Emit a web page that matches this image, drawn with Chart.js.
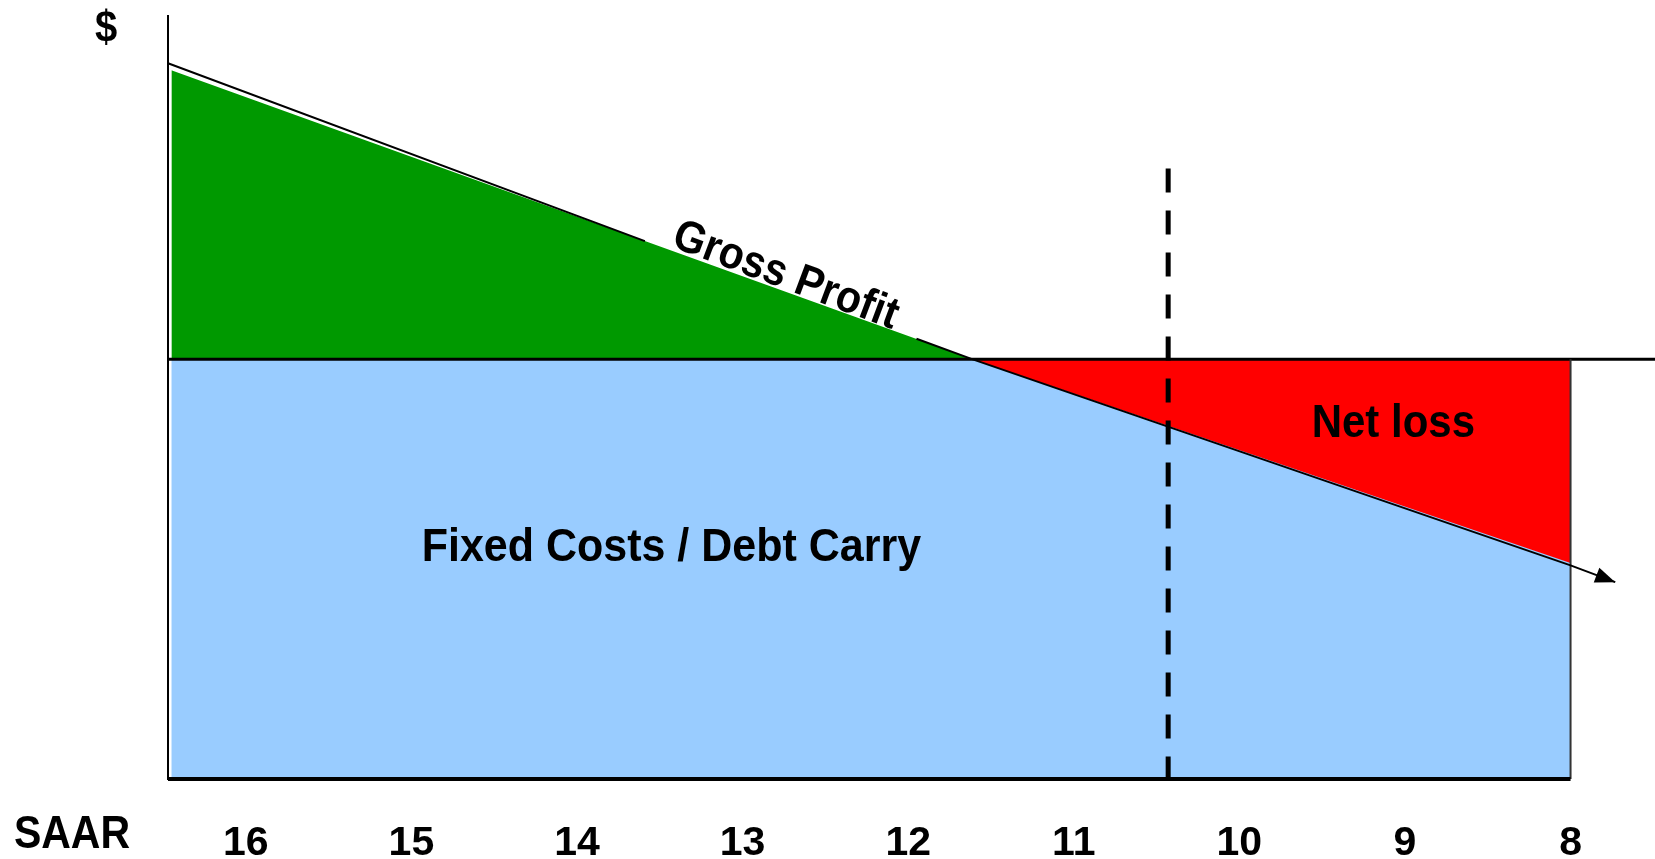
<!DOCTYPE html>
<html>
<head>
<meta charset="utf-8">
<script src="https://cdn.jsdelivr.net/npm/chart.js@4/dist/chart.umd.min.js"></script>
<style>
  body { margin: 0; background: #fff; }
  #wrap { width: 1655px; height: 859px; position: relative; }
</style>
</head>
<body>
<div id="wrap"><canvas id="chart"></canvas></div>
<script>
// SAAR (millions of units) on the x axis, running from high to low
const saarTicks = [16, 15, 14, 13, 12, 11, 10, 9, 8];

// fixed costs / debt carry: flat level
const fixedX = [16.45, 8];
const fixedY = [55, 55];

// gross profit area (green above fixed costs, red below)
const grossX = [16.45, 11.61, 8];
const grossY = [92.9, 55, 28.3];

// revenue line with a gap where "Gross Profit" sits on it
const revenueX = [16.47, 13.59, 12.8, 11.95, 11.61, 8, 7.73];
const revenueY = [93.8, 70.5, null, 57.7, 55, 28, 25.8];

// baseline running out to the right edge
const baseX = [16.47, 7.49];
const baseY = [55, 55];

// current SAAR marker
const currentX = [10.43, 10.43];
const currentY = [80, -0.6];

const toPts = (xs, ys) => xs.map((x, i) => ({ x: x, y: ys[i] }));

const FONT = "'Liberation Sans', Arial, Helvetica, sans-serif";

// text in the original is a bit taller than normal
function tallText(ctx, txt, px, py, stretch) {
    ctx.save();
    ctx.translate(px, py);
    ctx.scale(1, stretch);
    ctx.fillText(txt, 0, 0);
    ctx.restore();
}

const textPlugin = {
    id: "labels",
    afterDatasetsDraw(chart) {
        const ctx = chart.ctx;
        const x = chart.scales.x;
        const y = chart.scales.y;

        // arrow head at end of revenue line
        const pts = chart.getDatasetMeta(3).data;
        const p1 = pts[pts.length - 2];
        const p2 = pts[pts.length - 1];
        const ang = Math.atan2(p2.y - p1.y, p2.x - p1.x);
        ctx.save();
        ctx.translate(p2.x, p2.y);
        ctx.rotate(ang);
        ctx.fillStyle = "#000";
        ctx.beginPath();
        ctx.moveTo(0, 0);
        ctx.lineTo(-20, -8);
        ctx.lineTo(-20, 8);
        ctx.closePath();
        ctx.fill();
        ctx.restore();

        ctx.save();
        ctx.fillStyle = "#000";
        ctx.textAlign = "center";
        ctx.textBaseline = "middle";

        ctx.font = "bold 40px " + FONT;
        tallText(ctx, "$", 106, 30, 1.1);
        ctx.font = "bold 41px " + FONT;
        tallText(ctx, "SAAR", 72, 835, 1.12);

        ctx.font = "bold 43px " + FONT;
        tallText(ctx, "Fixed Costs / Debt Carry", x.getPixelForValue(13.43), y.getPixelForValue(30.3), 1.08);
        ctx.font = "bold 42px " + FONT;
        tallText(ctx, "Net loss", x.getPixelForValue(9.07), y.getPixelForValue(46.4), 1.08);

        ctx.translate(x.getPixelForValue(12.74), y.getPixelForValue(65.9));
        ctx.rotate(20.5 * Math.PI / 180);
        ctx.font = "bold 41px " + FONT;
        tallText(ctx, "Gross Profit", 0, 0, 1.1);
        ctx.restore();
    }
};

new Chart(document.getElementById("chart"), {
    type: "line",
    data: {
        datasets: [
            {
                label: "Fixed Costs",
                data: toPts(fixedX, fixedY),
                fill: "origin",
                backgroundColor: "#99ccff",
                borderWidth: 0,
                order: 10
            },
            {
                label: "Gross Profit",
                data: toPts(grossX, grossY),
                fill: { target: { value: 55 }, above: "#009900", below: "#ff0000" },
                borderWidth: 0,
                order: 9
            },
            {
                label: "Baseline",
                data: toPts(baseX, baseY),
                borderColor: "#000",
                borderWidth: 3,
                fill: false,
                clip: false,
                order: 8
            },
            {
                label: "Revenue",
                data: toPts(revenueX, revenueY),
                borderColor: "#000",
                borderWidth: 2,
                fill: false,
                spanGaps: false,
                clip: false,
                order: 5
            },
            {
                label: "Right edge",
                data: [{ x: 8, y: 0 }, { x: 8, y: 55 }],
                borderColor: "#333",
                borderWidth: 2,
                fill: false,
                order: 7
            },
            {
                label: "Bottom",
                data: [{ x: 16.47, y: 0 }, { x: 8, y: 0 }],
                borderColor: "#000",
                borderWidth: 4,
                fill: false,
                clip: false,
                order: 6
            },
            {
                label: "Current",
                data: toPts(currentX, currentY),
                borderColor: "#000",
                borderWidth: 5,
                borderDash: [24, 18],
                fill: false,
                clip: false,
                order: 4
            }
        ]
    },
    options: {
        responsive: true,
        maintainAspectRatio: false,
        animation: false,
        elements: { point: { radius: 0, hoverRadius: 0 }, line: { tension: 0 } },
        layout: { padding: { left: 160, top: 16, right: 0, bottom: 2 } },
        plugins: { legend: { display: false }, tooltip: { enabled: false } },
        scales: {
            x: {
                type: "linear",
                reverse: true,
                min: 7.49,
                max: 16.47,
                grid: { display: false },
                border: { display: false },
                afterBuildTicks: scale => {
                    scale.ticks = saarTicks.map(v => ({ value: v }));
                },
                afterFit: scale => {
                    scale.height = 78;
                },
                ticks: {
                    color: "#000",
                    padding: 32,
                    maxRotation: 0,
                    autoSkip: false,
                    font: { family: FONT, size: 41, weight: "bold" }
                }
            },
            y: {
                min: 0,
                max: 100,
                grid: { display: false },
                border: { display: true, color: "#000", width: 2 },
                ticks: { display: false }
            }
        }
    },
    plugins: [textPlugin]
});
</script>
</body>
</html>
